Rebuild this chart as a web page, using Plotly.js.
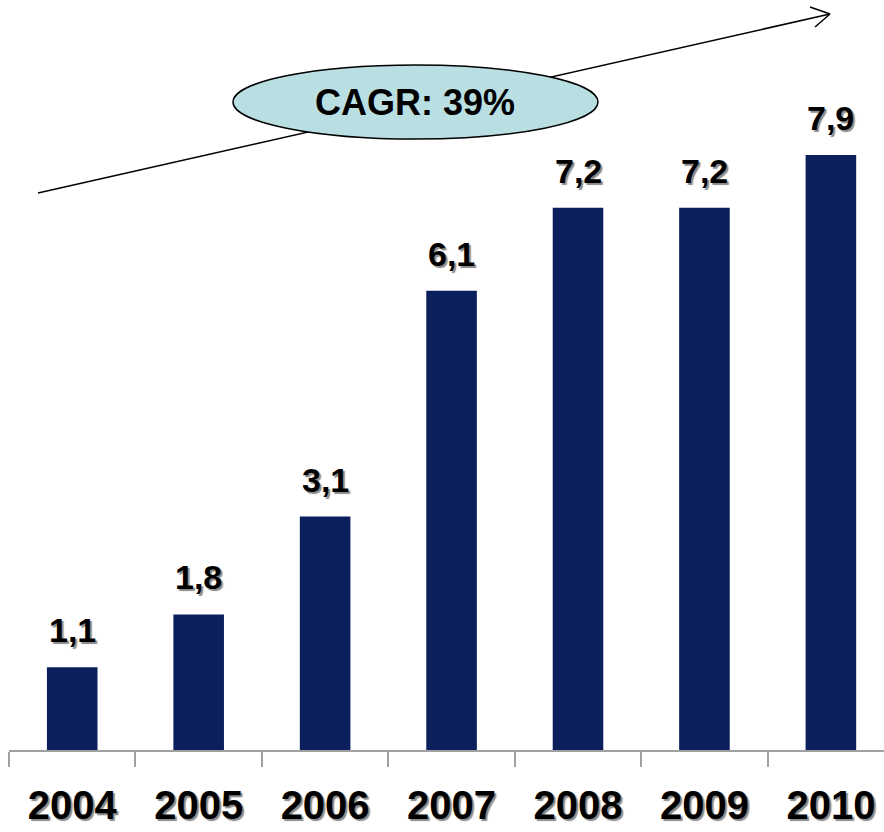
<!DOCTYPE html>
<html>
<head>
<meta charset="utf-8">
<script src="https://cdn.plot.ly/plotly-3.0.1.min.js"></script>
<style>html,body{margin:0;padding:0;background:#fff;}#chart{width:884px;height:832px;}</style>
</head>
<body>
<div id="chart"></div>
<script>
const years = ['2004','2005','2006','2007','2008','2009','2010'];
const values = [1.1, 1.8, 3.1, 6.1, 7.2, 7.2, 7.9];
const cagrLabel = 'CAGR: 39%';

const fmt = v => v.toFixed(1).replace('.', ',');
const shadow = '2px 2px 1px #8a8a8a';

const trace = {
  type: 'bar',
  x: years,
  y: values,
  width: 0.40,
  marker: {color: '#0b1f5c', line: {width: 0}},
  hoverinfo: 'skip'
};

const W = 884, H = 832, ml = 9, mr = 0, mt = 0, mb = 82;
const pw = W - ml - mr, ph = H - mt - mb;
const px = x => (x - ml) / pw;
const py = y => (H - mb - y) / ph;

const annotations = values.map((v, i) => ({
  x: i, y: v, xref: 'x', yref: 'y',
  text: fmt(v), showarrow: false, yanchor: 'bottom', yshift: 16,
  font: {family: 'Liberation Sans, Arial, sans-serif', size: 34, weight: 700, color: '#000', shadow: shadow}
}));

annotations.push({
  xref: 'paper', yref: 'paper', x: px(415), y: py(102),
  text: cagrLabel, showarrow: false, xanchor: 'center', yanchor: 'middle',
  font: {family: 'Liberation Sans, Arial, sans-serif', size: 36, weight: 700, color: '#000'}
});

const layout = {
  width: W, height: H,
  margin: {l: ml, r: mr, t: mt, b: mb, pad: 0},
  paper_bgcolor: '#fff', plot_bgcolor: '#fff',
  showlegend: false,
  xaxis: {
    type: 'category', range: [-0.5, 6.42],
    showline: true, linecolor: '#a0a0a0', linewidth: 2,
    ticks: 'outside', tickson: 'boundaries', ticklen: 15, tickwidth: 2, tickcolor: '#a0a0a0',
    ticklabelstandoff: 19,
    tickfont: {family: 'Liberation Sans, Arial, sans-serif', size: 40, weight: 700, color: '#000', shadow: shadow},
    showgrid: false, zeroline: false, fixedrange: true
  },
  yaxis: {
    range: [0, 9.96], visible: false, showgrid: false, zeroline: false, fixedrange: true
  },
  shapes: [
    {type: 'line', xref: 'paper', yref: 'paper', x0: px(38), y0: py(193), x1: px(830), y1: py(14),
     line: {color: '#000', width: 1.5}, layer: 'above'},
    {type: 'line', xref: 'paper', yref: 'paper', x0: px(810), y0: py(7), x1: px(830), y1: py(14),
     line: {color: '#000', width: 1.5}, layer: 'above'},
    {type: 'line', xref: 'paper', yref: 'paper', x0: px(815), y0: py(27), x1: px(830), y1: py(14),
     line: {color: '#000', width: 1.5}, layer: 'above'},
    {type: 'circle', xref: 'paper', yref: 'paper', x0: px(233), y0: py(65), x1: px(598), y1: py(139),
     fillcolor: '#b9dfe3', line: {color: '#000', width: 1.5}, layer: 'above'}
  ],
  annotations: annotations
};

Plotly.newPlot('chart', [trace], layout, {displayModeBar: false, staticPlot: true});
</script>
</body>
</html>
